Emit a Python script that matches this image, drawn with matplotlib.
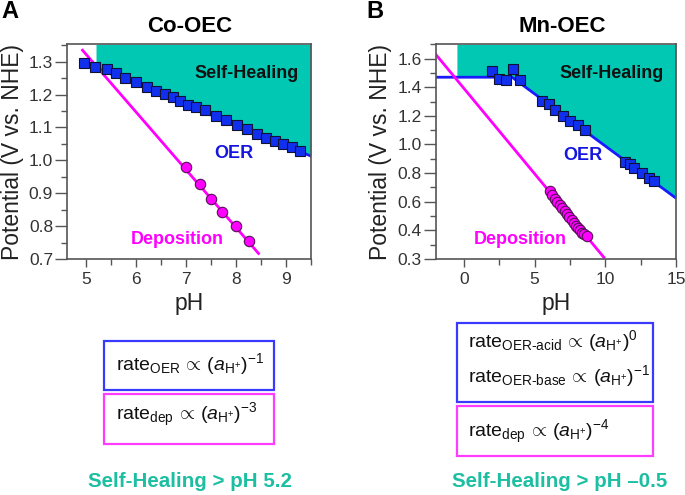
import numpy as np
import matplotlib
matplotlib.use("Agg")
import matplotlib.pyplot as plt
from matplotlib.patches import Rectangle
from matplotlib.ticker import MultipleLocator

plt.rcParams['font.family'] = ['Liberation Sans', 'DejaVu Sans']
plt.rcParams['mathtext.fontset'] = 'custom'
plt.rcParams['mathtext.rm'] = 'Liberation Sans'
plt.rcParams['mathtext.it'] = 'Liberation Sans:italic'
plt.rcParams['mathtext.bf'] = 'Liberation Sans:bold'

# ---------------- Data: panel A (Co-OEC) ----------------
oer_ph_A = [4.95, 5.18, 5.41, 5.59, 5.78, 6.00, 6.22, 6.40, 6.57, 6.73, 6.88, 7.04,
            7.20, 7.38, 7.60, 7.80, 8.01, 8.21, 8.42, 8.60, 8.77, 8.94, 9.11, 9.28]
oer_E_A = [1.295, 1.285, 1.277, 1.265, 1.251, 1.238, 1.224, 1.212, 1.202, 1.192, 1.180, 1.169,
           1.163, 1.152, 1.135, 1.123, 1.108, 1.094, 1.080, 1.069, 1.060, 1.050, 1.040, 1.027]
dep_ph_A = [7.00, 7.27, 7.50, 7.72, 7.99, 8.25]
dep_E_A = [0.979, 0.928, 0.883, 0.842, 0.801, 0.756]
oer_fit_ph_A = [4.95, 9.5]
oer_fit_E_A = [1.297, 1.013]
dep_fit_ph_A = [4.93, 8.45]
dep_fit_E_A = [1.335, 0.717]
heal_start_A = 5.2

# ---------------- Data: panel B (Mn-OEC) ----------------
oer_ph_B = [1.97, 2.49, 2.99, 3.50, 3.98, 5.52, 5.99, 6.47, 7.01, 7.53, 8.05, 8.55,
            11.40, 11.73, 12.04, 12.58, 13.06, 13.41]
oer_E_B = [1.510, 1.458, 1.448, 1.529, 1.448, 1.303, 1.280, 1.241, 1.199, 1.165, 1.135, 1.100,
           0.878, 0.862, 0.837, 0.798, 0.768, 0.745]
dep_ph_B = [6.07, 6.25, 6.42, 6.60, 6.78, 6.95, 7.13, 7.30, 7.45, 7.62, 7.78, 7.92,
            8.07, 8.22, 8.36, 8.52, 8.67]
dep_E_B = [0.672, 0.645, 0.622, 0.600, 0.578, 0.557, 0.535, 0.512, 0.492, 0.470, 0.452, 0.433,
           0.418, 0.400, 0.385, 0.372, 0.360]
oer_fit_ph_B = [-2.0, 3.4, 15.0]
oer_fit_E_B = [1.47, 1.47, 0.625]
dep_fit_ph_B = [-2.0, 9.9]
dep_fit_E_B = [1.63, 0.211]
heal_start_B = -0.5

xticks_A = [5, 6, 7, 8, 9]
yticks_A = [0.7, 0.8, 0.9, 1.0, 1.1, 1.2, 1.3]
yticklabels_A = ['0.7', '0.8', '0.9', '1.0', '1.1', '1.2', '1.3']
xticks_B = [0, 5, 10, 15]
yticks_B = [0.2, 0.4, 0.6, 0.8, 1.0, 1.2, 1.4, 1.6]
yticklabels_B = ['0.3', '0.4', '0.6', '0.8', '1.0', '1.2', '1.4', '1.6']

# ---------------- Styles ----------------
TEAL = '#00C8B2'
TEAL_TXT = '#1DBFA2'
BLUE = '#1030EE'
BLUE_LINE = '#1a1aff'
MAG = '#FF00FF'
SPINE = '#555555'

W, H = 685, 495
fig = plt.figure(figsize=(W / 100, H / 100), dpi=100)


def fx(px):
    return px / W


def fy(py):
    return 1 - py / H


def style_axes(ax):
    for s in ax.spines.values():
        s.set_color(SPINE)
        s.set_linewidth(1.2)
    ax.tick_params(axis='both', which='both', direction='out', color=SPINE,
                   labelcolor='#333333', labelsize=12.5, width=1.0)
    ax.tick_params(axis='y', which='major', length=8.5, pad=1.5)
    ax.tick_params(axis='y', which='minor', length=4.3)
    ax.tick_params(axis='x', which='major', length=6, pad=3.5)
    ax.tick_params(axis='x', which='minor', length=4.3)


def panel(ax, oer_ph, oer_E, dep_ph, dep_E, ofit_ph, ofit_E, dfit_ph, dfit_E,
          heal_start, xlim, ylim):
    ax.set_xlim(*xlim)
    ax.set_ylim(*ylim)
    xs = np.linspace(heal_start, xlim[1], 200)
    lower = np.interp(xs, ofit_ph, ofit_E)
    ax.fill_between(xs, lower, ylim[1], color=TEAL, lw=0, zorder=1)
    ax.plot(ofit_ph, ofit_E, color=BLUE_LINE, lw=2, zorder=2)
    ax.plot(dfit_ph, dfit_E, color=MAG, lw=2, zorder=2, clip_on=True)
    ax.plot(oer_ph, oer_E, 's', ms=7, mfc=BLUE, mec='#111133', mew=0.8, zorder=3)
    ax.plot(dep_ph, dep_E, 'o', ms=7.5, mfc=MAG, mec='#551155', mew=0.8, zorder=3)


# Panel A
axA = fig.add_axes([fx(67), fy(259), fx(311 - 67), (259 - 44.3) / H])
panel(axA, oer_ph_A, oer_E_A, dep_ph_A, dep_E_A, oer_fit_ph_A, oer_fit_E_A,
      dep_fit_ph_A, dep_fit_E_A, heal_start_A, (4.62, 9.5), (0.7, 1.353))
axA.set_xticks(xticks_A)
axA.xaxis.set_minor_locator(MultipleLocator(0.5))
axA.set_yticks(yticks_A)
axA.set_yticklabels(yticklabels_A)
axA.yaxis.set_minor_locator(MultipleLocator(0.05))
style_axes(axA)
axA.set_ylabel('Potential (V vs. NHE)', fontsize=16.5, color='#222222')
axA.yaxis.set_label_coords(-0.176, 0.5)
axA.set_xlabel('pH', fontsize=16.5, color='#222222')
axA.xaxis.set_label_coords(0.5, -0.155)
axA.text((247 - 67) / 244, (259 - 74) / 214.7, 'Self-Healing', transform=axA.transAxes,
         fontsize=13, fontweight='bold', color='#111111', ha='center', va='center')
axA.text((234 - 67) / 244, (259 - 154) / 214.7, 'OER', transform=axA.transAxes,
         fontsize=13, fontweight='bold', color='#1515E0', ha='center', va='center')
axA.text((177 - 67) / 244, (259 - 239) / 214.7, 'Deposition', transform=axA.transAxes,
         fontsize=13, fontweight='bold', color=MAG, ha='center', va='center')

# Panel B
axB = fig.add_axes([fx(435.7), fy(259), fx(676 - 435.7), (259 - 44.3) / H])
panel(axB, oer_ph_B, oer_E_B, dep_ph_B, dep_E_B, oer_fit_ph_B, oer_fit_E_B,
      dep_fit_ph_B, dep_fit_E_B, heal_start_B, (-2.0, 15.0), (0.2, 1.7))
axB.set_xticks(xticks_B)
axB.xaxis.set_minor_locator(MultipleLocator(2.5))
axB.set_yticks(yticks_B)
axB.set_yticklabels(yticklabels_B)
axB.yaxis.set_minor_locator(MultipleLocator(0.1))
style_axes(axB)
axB.set_ylabel('Potential (V vs. NHE)', fontsize=16.5, color='#222222')
axB.yaxis.set_label_coords(-0.182, 0.5)
axB.set_xlabel('pH', fontsize=16.5, color='#222222')
axB.xaxis.set_label_coords(0.5, -0.155)
axB.text((611.7 - 435.7) / 240.3, (259 - 74) / 214.7, 'Self-Healing', transform=axB.transAxes,
         fontsize=13, fontweight='bold', color='#111111', ha='center', va='center')
axB.text((583 - 435.7) / 240.3, (259 - 156) / 214.7, 'OER', transform=axB.transAxes,
         fontsize=13, fontweight='bold', color='#1515E0', ha='center', va='center')
axB.text((520 - 435.7) / 240.3, (259 - 239) / 214.7, 'Deposition', transform=axB.transAxes,
         fontsize=13, fontweight='bold', color=MAG, ha='center', va='center')

# Titles and panel letters
fig.text(fx(190), fy(27), 'Co-OEC', fontsize=16, fontweight='bold', ha='center', va='center')
fig.text(fx(562.5), fy(27), 'Mn-OEC', fontsize=16, fontweight='bold', ha='center', va='center')
fig.text(fx(1), fy(12), 'A', fontsize=17, fontweight='bold', ha='left', va='center')
fig.text(fx(366), fy(12), 'B', fontsize=17, fontweight='bold', ha='left', va='center')


# Rate-law boxes
def box(x0, y0, x1, y1, color):
    fig.add_artist(Rectangle((fx(x0), fy(y1)), fx(x1 - x0), (y1 - y0) / H,
                             transform=fig.transFigure, fill=False, edgecolor=color, lw=1.6))


BOX_BLUE = '#3a3aff'
BOX_MAG = '#ff3cff'
box(104, 340.7, 274, 390.3, BOX_BLUE)
box(104, 394, 274, 444, BOX_MAG)
box(456.7, 322.7, 652.7, 401.7, BOX_BLUE)
box(456.7, 406, 652.7, 455.7, BOX_MAG)

law_kw = dict(fontsize=14, ha='left', va='baseline', color='#111111')
PROP = r'$\,\propto\,$'
fig.text(fx(116), fy(370), r'rate$_{\mathrm{OER}}$' + PROP + r'($a_{\mathrm{H^{+}}}$)$^{\mathrm{-1}}$', **law_kw)
fig.text(fx(116), fy(420), r'rate$_{\mathrm{dep}}$' + PROP + r'($a_{\mathrm{H^{+}}}$)$^{\mathrm{-3}}$', **law_kw)
fig.text(fx(468), fy(346.7), r'rate$_{\mathrm{OER\text{-}acid}}$' + PROP + r'($a_{\mathrm{H^{+}}}$)$^{\mathrm{0}}$', **law_kw)
fig.text(fx(468), fy(381.7), r'rate$_{\mathrm{OER\text{-}base}}$' + PROP + r'($a_{\mathrm{H^{+}}}$)$^{\mathrm{-1}}$', **law_kw)
fig.text(fx(468), fy(436.7), r'rate$_{\mathrm{dep}}$' + PROP + r'($a_{\mathrm{H^{+}}}$)$^{\mathrm{-4}}$', **law_kw)

fig.text(fx(190), fy(481.7), 'Self-Healing > pH 5.2', fontsize=14.8, fontweight='bold',
         color=TEAL_TXT, ha='center', va='center')
fig.text(fx(560), fy(481.7), 'Self-Healing > pH \u20130.5', fontsize=14.8, fontweight='bold',
         color=TEAL_TXT, ha='center', va='center')

fig.savefig('out.png', dpi=100)
